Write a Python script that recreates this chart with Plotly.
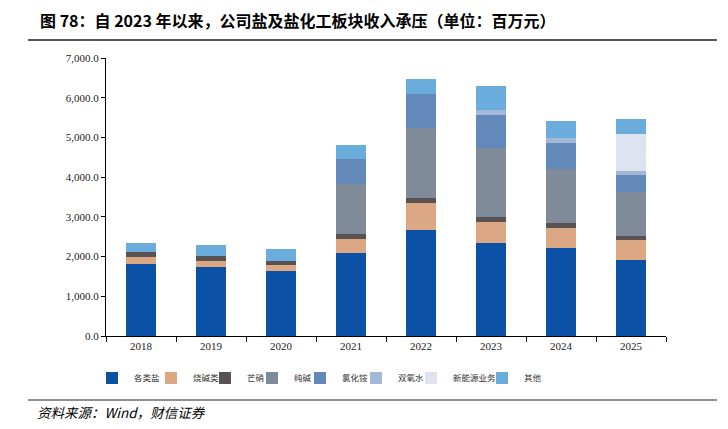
import plotly.graph_objects as go

years = ["2018", "2019", "2020", "2021", "2022", "2023", "2024", "2025"]
series_names = ["各类盐", "烧碱类", "芒硝", "纯碱", "氯化铵", "双氧水", "新能源业务", "其他"]
salt = [1820, 1730, 1637, 2098, 2662, 2350, 2224, 1920]
caustic = [176, 166, 159, 345, 680, 521, 504, 499]
mirabilite = [111, 110, 100, 118, 126, 126, 118, 101]
soda = [0, 0, 0, 1267, 1763, 1746, 1360, 1118]
ammonium = [0, 0, 0, 622, 856, 831, 662, 411]
peroxide = [0, 0, 0, 0, 0, 118, 111, 108]
new_energy = [0, 0, 0, 0, 0, 0, 0, 917]
other = [234, 292, 295, 360, 378, 605, 436, 378]
colors = ["#0b52a6", "#dca884", "#595252", "#7f8b99", "#6389bb", "#a3b7d7", "#dde3ef", "#6aacdb"]
values = [salt, caustic, mirabilite, soda, ammonium, peroxide, new_energy, other]

L, R, T, B = 106, 62, 58, 93
PW = 728 - L - R
PH = 429 - T - B
legend_px = [112, 171, 225, 272, 320, 376, 431, 502]

serif = "Liberation Serif, Times New Roman, Noto Sans CJK SC"
cjk = "Noto Sans CJK SC"

fig = go.Figure()
for i, (name, vals, col) in enumerate(zip(series_names, values, colors)):
    lg = "legend" if i == 0 else f"legend{i+1}"
    fig.add_trace(go.Bar(x=years, y=vals, name=name, marker=dict(color=col, line=dict(width=0)),
                         legend=lg))

layout_legends = {}
for i, px in enumerate(legend_px):
    key = "legend" if i == 0 else f"legend{i+1}"
    layout_legends[key] = dict(
        x=(px - 22 - L) / PW, xanchor="left",
        y=(336 - 378) / PH, yanchor="middle",
        orientation="h", bgcolor="rgba(0,0,0,0)",
        font=dict(family=cjk, size=8.5, color="#333333"),
        itemwidth=34,
    )

fig.update_layout(
    barmode="stack",
    bargap=0.57,
    width=728, height=429,
    margin=dict(l=L, r=R, t=T, b=B),
    plot_bgcolor="white", paper_bgcolor="white",
    showlegend=True,
    **layout_legends,
    xaxis=dict(showline=True, linecolor="black", linewidth=1, ticks="outside", tickson="boundaries",
               ticklen=5, tickcolor="black", tickfont=dict(family=serif, size=11, color="#222"),
               showgrid=False),
    yaxis=dict(range=[0, 7000], dtick=1000, tickformat=",.1f", showline=True, linecolor="black",
               linewidth=1, ticks="outside", ticklen=4, tickcolor="black", showgrid=False,
               zeroline=False, tickfont=dict(family=serif, size=11, color="#222")),
)

fig.add_annotation(text="<b>图 78：自 2023 年以来，公司盐及盐化工板块收入承压（单位：百万元）</b>",
                   xref="paper", yref="paper", x=(38 - L) / PW, y=(336 - 20) / PH,
                   xanchor="left", yanchor="middle", showarrow=False,
                   font=dict(family=cjk, size=16, color="black"))
fig.add_annotation(text="<i>资料来源：Wind，财信证券</i>",
                   xref="paper", yref="paper", x=(35 - L) / PW, y=(336 - 412) / PH,
                   xanchor="left", yanchor="middle", showarrow=False,
                   font=dict(family=cjk, size=13.5, color="black"))
fig.add_shape(type="line", xref="paper", yref="paper", x0=(28 - L) / PW, x1=(717 - L) / PW,
              y0=(336 - 40) / PH, y1=(336 - 40) / PH, line=dict(color="#555555", width=2))
fig.add_shape(type="line", xref="paper", yref="paper", x0=(28 - L) / PW, x1=(717 - L) / PW,
              y0=(336 - 400) / PH, y1=(336 - 400) / PH, line=dict(color="#222222", width=1))

fig.write_html("out.html")
